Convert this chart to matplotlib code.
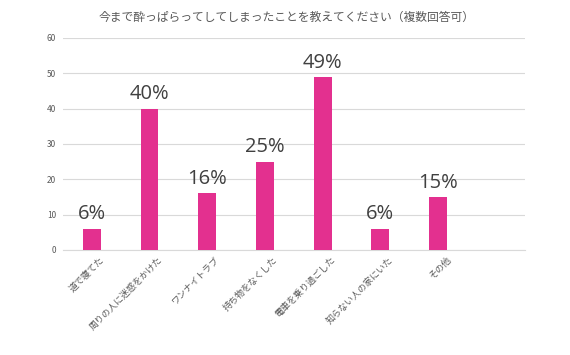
import matplotlib
matplotlib.use('Agg')
from matplotlib import pyplot as plt
from matplotlib.transforms import ScaledTranslation

plt.rcParams['font.family'] = ['Noto Sans CJK JP', 'DejaVu Sans']

categories = ['道で寝てた', '周りの人に迷惑をかけた', 'ワンナイトラブ', '持ち物をなくした',
              '電車を乗り過ごした', '知らない人の家にいた', 'その他', '']
values = [6, 40, 16, 25, 49, 6, 15, None]
title = '今まで酔っぱらってしてしまったことを教えてください（複数回答可）'
yticks = [0, 10, 20, 30, 40, 50, 60]

fig = plt.figure(figsize=(5.7, 3.55), dpi=100)
ax = fig.add_axes([0.1105, 0.296, 0.81, 0.597])

x = list(range(len(categories)))
bar_x = [i for i, v in zip(x, values) if v is not None]
bar_v = [v for v in values if v is not None]
bars = ax.bar(bar_x, bar_v, width=0.31, color='#E3308F', zorder=3)

for b, v in zip(bars, bar_v):
    ax.text(b.get_x() + b.get_width() / 2, v + 1.2, f'{v}%',
            ha='center', va='bottom', fontsize=14.5, color='#404040',
            family=['Open Sans', 'DejaVu Sans'])

ax.set_xlim(-0.5, len(categories) - 0.5)
ax.set_ylim(0, 60)
ax.set_yticks(yticks)
ax.set_xticks(x)
ax.set_xticklabels([])

# category labels drawn by hand, shifted a little right like the original
trans = ax.get_xaxis_transform() + ScaledTranslation(8 / 100, -5 / 100, fig.dpi_scale_trans)
for i, lab in zip(x, categories):
    ax.text(i, 0, lab, transform=trans, rotation=45, ha='right', va='top',
            rotation_mode='anchor', fontsize=6.5, color='#595959')

ax.tick_params(axis='y', labelsize=6, labelcolor='#595959', length=0, pad=5)
ax.tick_params(axis='x', length=0)
ax.grid(axis='y', color='#d9d9d9', linewidth=0.8, zorder=0)
for s in ['top', 'right', 'left']:
    ax.spines[s].set_visible(False)
ax.spines['bottom'].set_color('#d9d9d9')

fig.text(0.503, 0.952, title, ha='center', va='center', fontsize=8.5, color='#595959')

fig.savefig('out.png', dpi=100, facecolor='white')
